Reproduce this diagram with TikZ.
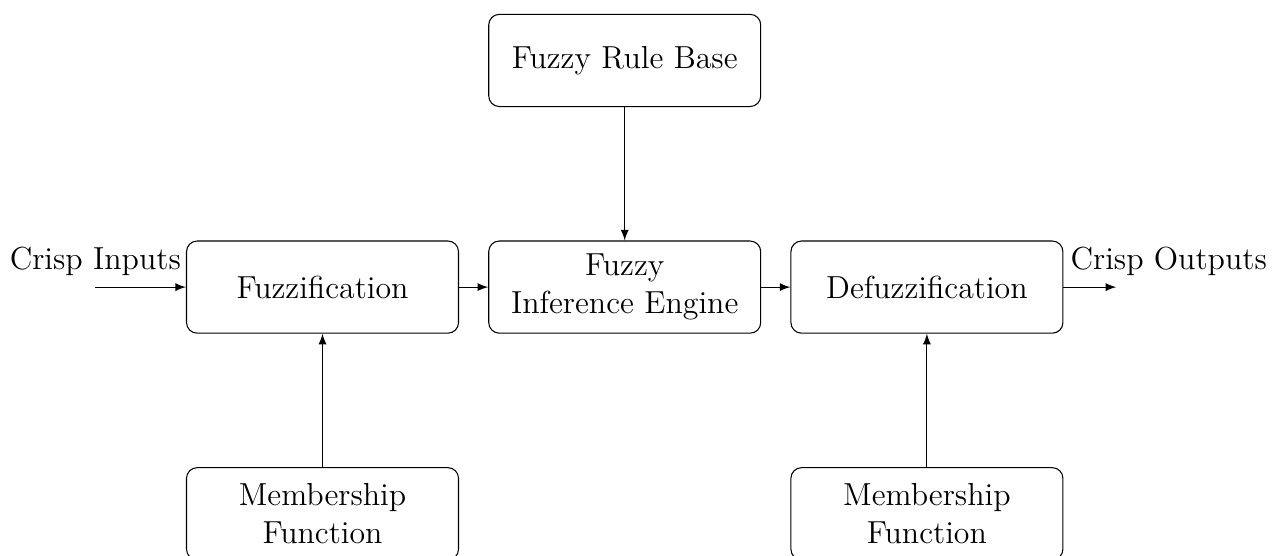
\documentclass[tikz,border=0pt,12pt]{standalone}
\usepackage{tikz}
\usetikzlibrary{shapes}
\usetikzlibrary{arrows}
\usetikzlibrary{calc}
\begin{document}
\begin{tikzpicture}[box/.style={draw,rounded corners,align=center,minimum width=3.6cm,minimum height=1.22cm}]
\useasboundingbox (-4.269,-3.55) rectangle (12.70,3.80);
\node[box] (fuzz) at (0,0) {Fuzzification};
\node[box] (infer) at (4,0) {Fuzzy\\Inference Engine};
\node[box] (defuzz) at (8,0) {Defuzzification};
\node[box] (rules) at (4,3) {Fuzzy Rule Base};
\node[box] (mfin) at (0,-3) {Membership\\Function};
\node[box] (mfout) at (8,-3) {Membership\\Function};
\coordinate (in) at ($(fuzz.west)+(-1.2,0)$);
\coordinate (out) at ($(defuzz.east)+(0.7,0)$);
\draw[-latex] (in) node[above] {Crisp Inputs} -- (fuzz);
\draw[-latex] (fuzz) -- (infer);
\draw[-latex] (infer) -- (defuzz);
\draw[-latex] (defuzz) node[above right,xshift=-1.5pt] at (defuzz.east) {Crisp Outputs} -- (out);
\draw[-latex] (rules) -- (infer);
\draw[-latex] (mfin) -- (fuzz);
\draw[-latex] (mfout) -- (defuzz);
\end{tikzpicture}
\end{document}
